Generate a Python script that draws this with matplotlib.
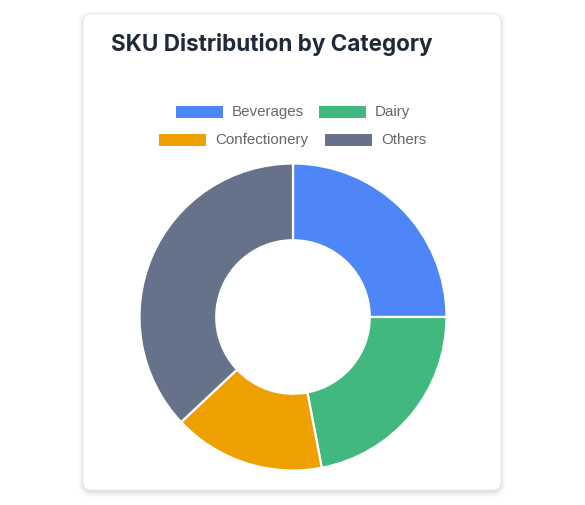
import matplotlib
matplotlib.use("Agg")
import matplotlib.pyplot as plt
from matplotlib.patches import FancyBboxPatch, Rectangle

categories = ["Beverages", "Dairy", "Confectionery", "Others"]
values = [25, 22, 16, 37]
colors = ["#4f86f7", "#41b87e", "#eda000", "#66728a"]
title = "SKU Distribution by Category"

W, H = 585, 505
fig = plt.figure(figsize=(W / 100, H / 100), dpi=100)
fig.patch.set_facecolor("white")

# background canvas in pixel coordinates (y downward)
bg = fig.add_axes([0, 0, 1, 1])
bg.set_xlim(0, W)
bg.set_ylim(H, 0)
bg.axis("off")

# card shadow
for i, a in enumerate([0.04, 0.03, 0.02, 0.015]):
    pad = 1 + i * 1.5
    bg.add_patch(FancyBboxPatch((83 - pad + 0.5, 14 - pad + 2), 418 + 2 * pad - 1, 476 + 2 * pad,
                                boxstyle="round,pad=0,rounding_size=%g" % (8 + pad),
                                fc="black", ec="none", alpha=a))
bg.add_patch(FancyBboxPatch((83, 14), 418, 476, boxstyle="round,pad=0,rounding_size=8",
                            fc="white", ec="#e5e7eb", lw=0.6))

bg.text(111, 45, title, fontsize=16.2, fontweight="bold", family=["Inter", "DejaVu Sans"],
        color="#1f2937", va="center", ha="left")

# legend (Chart.js style, centered rows)
rows = [[(0, 176), (1, 319)], [(2, 159), (3, 325)]]
row_y = [112, 140]
for r, items in enumerate(rows):
    y = row_y[r]
    for idx, x in items:
        bg.add_patch(Rectangle((x, y - 6), 47, 12, fc=colors[idx], ec="none"))
        bg.text(x + 56, y, categories[idx], fontsize=10.9, family=["Liberation Sans", "DejaVu Sans"],
                color="#666666", va="center", ha="left")

# donut
cx, cy, R = 293, 317, 153.5
ax = fig.add_axes([(cx - R) / W, (H - cy - R) / H, 2 * R / W, 2 * R / H])
ax.pie(values, colors=colors, startangle=90, counterclock=False, radius=1,
       wedgeprops=dict(width=0.5, edgecolor="white", linewidth=1.6))
ax.set_xlim(-1, 1)
ax.set_ylim(-1, 1)
ax.set_aspect("auto")
ax.axis("off")

fig.savefig("out.png", dpi=100, facecolor="white")
